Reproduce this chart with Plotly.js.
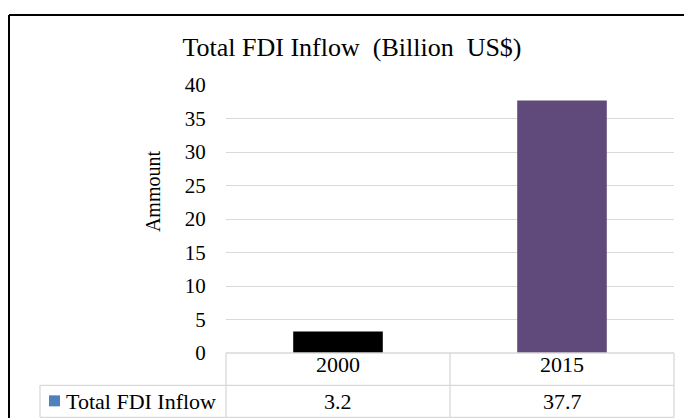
<!DOCTYPE html>
<html>
<head>
<meta charset="utf-8">
<script src="https://cdn.plot.ly/plotly-3.0.1.min.js"></script>
<style>
  html, body { margin: 0; padding: 0; background: #fff; }
  #chart { width: 684px; height: 418px; }
</style>
</head>
<body>
<div id="chart"></div>
<script>
// ---- data ----
const categories = ['2000', '2015'];
const inflowValues = [3.2, 37.7];
const seriesName = 'Total FDI Inflow';
const yTickValues = [0, 5, 10, 15, 20, 25, 30, 35, 40];
const chartTitle = 'Total FDI Inflow&nbsp;&nbsp;(Billion&nbsp;&nbsp;US$)';
const yAxisLabel = 'Ammount';

// ---- style ----
const barColors = ['#000000', '#604A7B'];
const serif = 'Liberation Serif';
const gridCol = '#d9d9d9';
const W = 684, H = 418;
const L = 226, R = 674, T = 85, B = 352.7;
const toPX = x => (x - L) / (R - L);
const toPY = y => (B - y) / (B - T);

const shapes = [
  // data-table grid
  {type: 'line', xref: 'paper', yref: 'paper', x0: 0, x1: 1, y0: 0, y1: 0, line: {color: gridCol, width: 1.3}},
  {type: 'line', xref: 'paper', yref: 'paper', x0: 0, x1: 0, y0: 0, y1: toPY(417), line: {color: gridCol, width: 1.3}},
  {type: 'line', xref: 'paper', yref: 'paper', x0: 0.5, x1: 0.5, y0: 0, y1: toPY(417), line: {color: gridCol, width: 1.3}},
  {type: 'line', xref: 'paper', yref: 'paper', x0: 1, x1: 1, y0: 0, y1: toPY(417), line: {color: gridCol, width: 1.3}},
  {type: 'line', xref: 'paper', yref: 'paper', x0: toPX(40), x1: 1, y0: toPY(385), y1: toPY(385), line: {color: gridCol, width: 1.3}},
  {type: 'line', xref: 'paper', yref: 'paper', x0: toPX(40), x1: 1, y0: toPY(417), y1: toPY(417), line: {color: gridCol, width: 1.3}},
  {type: 'line', xref: 'paper', yref: 'paper', x0: toPX(40), x1: toPX(40), y0: toPY(385), y1: toPY(417), line: {color: gridCol, width: 1.3}},
  // legend key
  {type: 'rect', xref: 'paper', yref: 'paper', x0: toPX(49), x1: toPX(60), y0: toPY(395), y1: toPY(406), fillcolor: '#4F81BD', line: {width: 0}},
  // chart border (left and top)
  {type: 'line', xref: 'paper', yref: 'paper', x0: toPX(9), x1: toPX(9), y0: toPY(430), y1: toPY(15), line: {color: '#000', width: 2}},
  {type: 'line', xref: 'paper', yref: 'paper', x0: toPX(9), x1: toPX(700), y0: toPY(15), y1: toPY(15), line: {color: '#000', width: 2}}
];

const annotations = [
  {xref: 'paper', yref: 'paper', x: toPX(153), y: toPY(191), text: yAxisLabel, textangle: -90,
   showarrow: false, xanchor: 'center', yanchor: 'middle', font: {family: serif, size: 20, color: '#000'}},
  {xref: 'paper', yref: 'paper', x: toPX(64), y: toPY(401), text: seriesName,
   showarrow: false, xanchor: 'left', yanchor: 'middle', font: {family: serif, size: 22, color: '#000'}}
];
categories.forEach((c, i) => {
  annotations.push({xref: 'x', yref: 'paper', x: i, y: toPY(401), text: String(inflowValues[i]),
    showarrow: false, xanchor: 'center', yanchor: 'middle', font: {family: serif, size: 22, color: '#000'}});
});

const trace = {
  type: 'bar',
  x: categories,
  y: inflowValues,
  name: seriesName,
  marker: {color: barColors}
};

const layout = {
  width: W, height: H,
  margin: {l: L, r: W - R, t: T, b: H - B, pad: 0},
  paper_bgcolor: '#fff', plot_bgcolor: '#fff',
  showlegend: false,
  bargap: 0.6,
  title: {text: chartTitle, xref: 'paper', yref: 'container', x: toPX(352), y: 1 - 47 / H,
          xanchor: 'center', yanchor: 'middle', font: {family: serif, size: 26, color: '#000'}},
  xaxis: {
    type: 'category', showgrid: false, zeroline: false, showline: false,
    anchor: 'free', position: 0.016,
    ticks: '', tickfont: {family: serif, size: 22, color: '#000'}
  },
  yaxis: {
    range: [0, 40], tickvals: yTickValues, showgrid: true, gridcolor: gridCol, gridwidth: 1.3,
    zeroline: false, showline: false, ticks: 'outside', ticklen: 15, tickcolor: 'rgba(0,0,0,0)',
    tickfont: {family: serif, size: 21, color: '#000'}
  },
  shapes: shapes,
  annotations: annotations
};

Plotly.newPlot('chart', [trace], layout, {displayModeBar: false});
</script>
</body>
</html>
